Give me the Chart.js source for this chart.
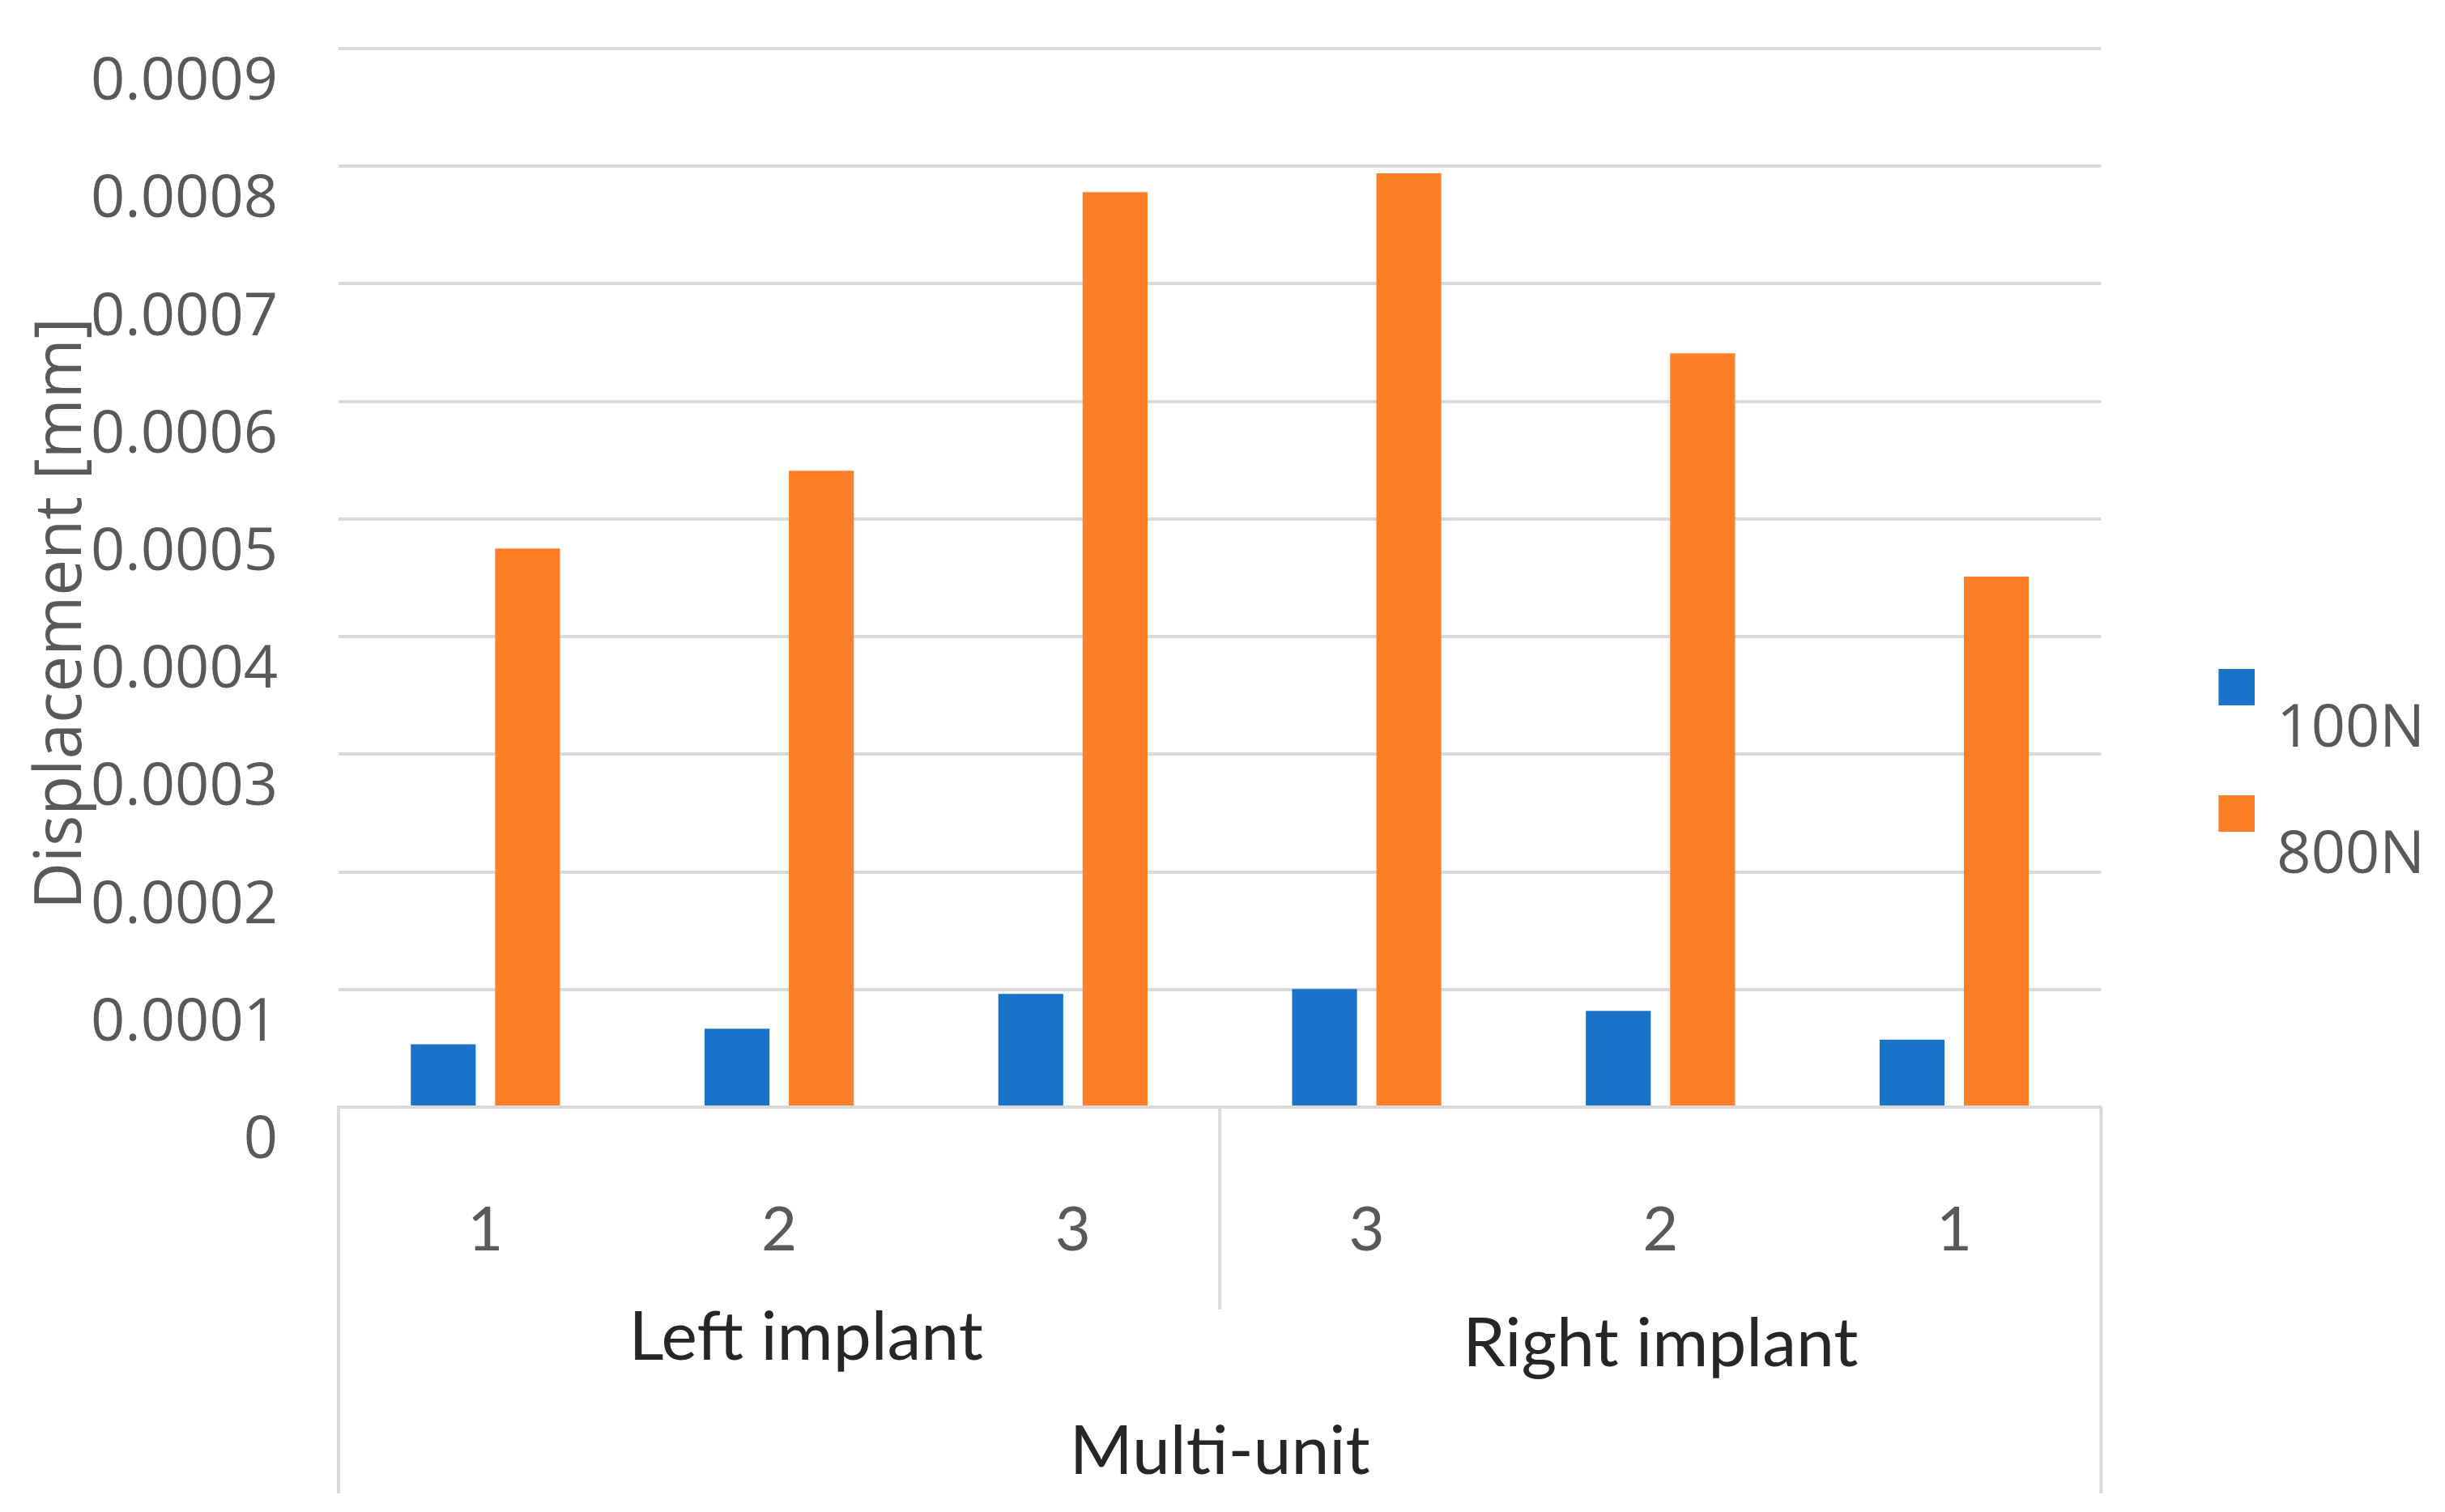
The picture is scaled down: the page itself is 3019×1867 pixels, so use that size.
<!DOCTYPE html>
<html>
<head>
<meta charset="utf-8">
<script src="https://cdn.jsdelivr.net/npm/chart.js@4.4.0/dist/chart.umd.min.js"></script>
<style>
  html, body { margin: 0; padding: 0; background: #ffffff; }
</style>
</head>
<body>
<canvas id="myChart" width="3019" height="1867"></canvas>
<script>
// data
const categories = ['1', '2', '3', '3', '2', '1'];
const groupLabels = ['Left implant', 'Right implant'];
const axisGroupLabel = 'Multi-unit';
const seriesNames = ['100N', '800N'];
const disp100N = [0.0000534, 0.0000666, 0.0000962, 0.0001003, 0.0000817, 0.0000574];
const disp800N = [0.000475, 0.000541, 0.000778, 0.000794, 0.000641, 0.000451];
const yMin = 0, yMax = 0.0009, yStep = 0.0001;

const blue = '#1873c9';
const orange = '#fe7f27';
const grey = '#595959';
const lineGrey = '#d9d9d9';

// legend swatch: square sitting above the text line, like the original
// (image is 20px wider than the legend box so the square sits closer to the text)
function swatch(color) {
    const c = document.createElement('canvas');
    c.width = 98 + 20;
    c.height = 45 + 2 * 52;
    const g = c.getContext('2d');
    g.fillStyle = color;
    g.fillRect(c.width - 45, 0, 45, 45);
    return c;
}
const swatches = [swatch(blue), swatch(orange)];

// group labels, separators and rotated y title
const extras = {
    id: 'extras',
    afterDraw(chart) {
        const { ctx, chartArea, scales: { x } } = chart;
        const base = chartArea.bottom;
        const mid = (x.getPixelForTick(2) + x.getPixelForTick(3)) / 2;

        ctx.save();
        ctx.strokeStyle = lineGrey;
        ctx.lineWidth = 4;
        ctx.beginPath();
        ctx.moveTo(chartArea.left, base); ctx.lineTo(chartArea.left, 1844);
        ctx.moveTo(chartArea.right, base); ctx.lineTo(chartArea.right, 1844);
        ctx.moveTo(mid, base); ctx.lineTo(mid, base + 250);
        ctx.stroke();

        ctx.fillStyle = '#262626';
        ctx.font = "84px Lato, sans-serif";
        ctx.textAlign = 'center';
        ctx.textBaseline = 'middle';
        ctx.fillText(groupLabels[0], x.getPixelForTick(1) + 33, base + 285);
        ctx.fillText(groupLabels[1], x.getPixelForTick(4), base + 293);

        ctx.translate(77, (chartArea.top + chartArea.bottom) / 2 + 44);
        ctx.rotate(-Math.PI / 2);
        ctx.fillStyle = grey;
        ctx.font = "80px 'Open Sans', sans-serif";
        ctx.fillText('Displacement [mm]', 0, 0);
        ctx.restore();
    }
};

var ctx = document.getElementById('myChart').getContext('2d');
var myChart = new Chart(ctx, {
    type: 'bar',
    data: {
        labels: categories,
        datasets: [{
            label: seriesNames[0],
            data: disp100N,
            backgroundColor: blue
        }, {
            label: seriesNames[1],
            data: disp800N,
            backgroundColor: orange
        }]
    },
    options: {
        responsive: false,
        devicePixelRatio: 1,
        animation: false,
        categoryPercentage: 0.574,
        barPercentage: 0.77,
        layout: { padding: { top: 60, right: 15, bottom: 0, left: 0 } },
        plugins: {
            tooltip: { enabled: false },
            legend: {
                position: 'right',
                align: 'center',
                title: { display: true, text: '', font: { size: 10 }, padding: { top: 9, bottom: 9 } },
                labels: {
                    usePointStyle: true,
                    pointStyleWidth: 98,
                    padding: 82,
                    color: grey,
                    font: { family: "'Open Sans', sans-serif", size: 74 },
                    generateLabels: chart => chart.data.datasets.map((ds, i) => ({
                        text: ds.label,
                        pointStyle: swatches[i],
                        fillStyle: ds.backgroundColor,
                        strokeStyle: 'transparent',
                        lineWidth: 0,
                        fontColor: grey,
                        hidden: false,
                        datasetIndex: i
                    }))
                }
            }
        },
        scales: {
            x: {
                grid: { display: false, drawTicks: false },
                border: { display: true, color: lineGrey, width: 4 },
                ticks: {
                    color: grey,
                    font: { family: 'Lato, sans-serif', size: 76 },
                    padding: 107,
                    maxRotation: 0,
                    autoSkip: false
                },
                title: {
                    display: true,
                    text: axisGroupLabel,
                    color: '#262626',
                    font: { family: 'Lato, sans-serif', size: 84 },
                    padding: { top: 0, bottom: 24 }
                },
                afterFit: s => { s.height = 500; s.paddingLeft = 0; s.paddingRight = 0; }
            },
            y: {
                min: yMin,
                max: yMax,
                ticks: {
                    stepSize: yStep,
                    padding: 75,
                    labelOffset: 42,
                    color: grey,
                    font: { family: "'Open Sans', sans-serif", size: 74 },
                    callback: v => v === 0 ? '0' : v.toFixed(4)
                },
                grid: { color: lineGrey, lineWidth: 4, drawTicks: false },
                border: { display: false },
                afterFit: s => { s.width = 418; s.paddingTop = 0; s.paddingBottom = 0; }
            }
        }
    },
    plugins: [extras]
});
</script>
</body>
</html>
